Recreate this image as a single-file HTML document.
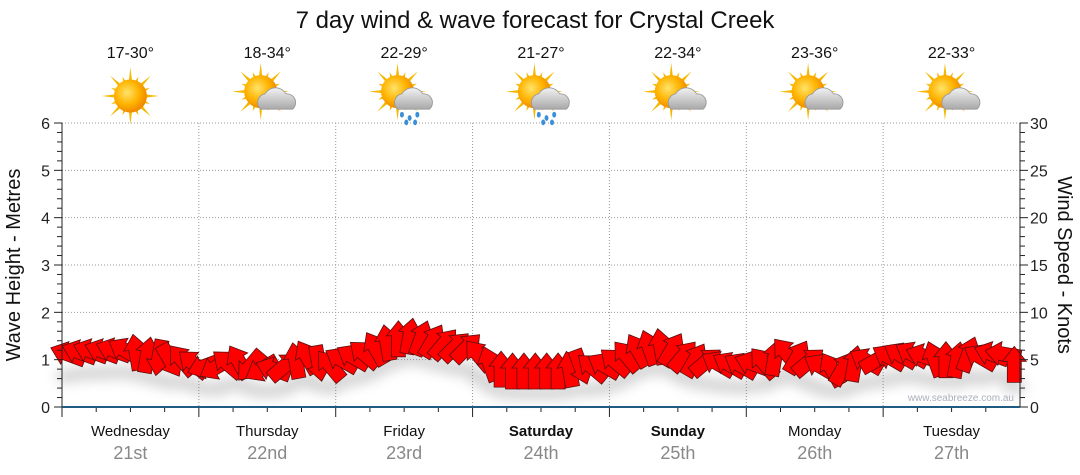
<!DOCTYPE html>
<html><head><meta charset="utf-8">
<style>
body{margin:0;background:#fff;font-family:"Liberation Sans","DejaVu Sans",sans-serif;}
svg{display:block}
</style></head>
<body>
<svg id="chart" width="1080" height="475" viewBox="0 0 1080 475" xmlns="http://www.w3.org/2000/svg">
<defs>
<filter id="blur" x="-50%" y="-50%" width="200%" height="200%"><feGaussianBlur stdDeviation="6"/></filter>
<radialGradient id="sunG" cx="40%" cy="40%" r="60%"><stop offset="0" stop-color="#ffe36a"/><stop offset="0.6" stop-color="#ffb300"/><stop offset="1" stop-color="#f08a00"/></radialGradient>
<linearGradient id="cloudG" x1="0" y1="0" x2="0" y2="1"><stop offset="0" stop-color="#f2f2f2"/><stop offset="1" stop-color="#a8a8a8"/></linearGradient>
</defs>
<text x="535" y="28" font-size="24" text-anchor="middle" fill="#111">7 day wind &amp; wave forecast for Crystal Creek</text>
<g id="grid"></g>
<g id="shadows" filter="url(#blur)" opacity="0.25"></g>
<g id="arrows"></g>
<g id="axes"></g>
<g id="icons"></g>
<text x="1014" y="401" font-size="10" text-anchor="end" fill="#aab0bb">www.seabreeze.com.au</text>
<text transform="translate(20,265) rotate(-90)" font-size="20" text-anchor="middle" fill="#111">Wave Height - Metres</text>
<text transform="translate(1058,265) rotate(90)" font-size="20" text-anchor="middle" fill="#111">Wind Speed - Knots</text>
</svg>
<script>
const days=["Wednesday","Thursday","Friday","Saturday","Sunday","Monday","Tuesday"];
const dates=["21st","22nd","23rd","24th","25th","26th","27th"];
const boldDays=[false,false,false,true,true,false,false];
const temps=["17-30°","18-34°","22-29°","21-27°","22-34°","23-36°","22-33°"];
const weather=["sun","cloud","rain","rain","cloud","cloud","cloud"];
const waveTicks=[0,1,2,3,4,5,6];
const windTicks=[0,5,10,15,20,25,30];
const windSpeed=[5.6,5.8,5.9,5.9,6,6,5.8,5.5,5.2,4.9,5.0,4.6,
4.3,4.2,4.6,4.8,4.3,4.0,4.0,4.3,4.9,5.3,4.6,4.4,
5.0,5.3,5.6,6.2,6.8,7.2,7.5,7.3,7.0,6.7,6.4,6.3,
5.5,4.6,4.0,3.8,3.8,3.8,3.8,3.8,4.0,4.2,4.2,4.4,
4.8,5.4,6.0,6.3,6.4,6.1,5.4,5.0,4.8,4.6,4.5,4.4,
4.6,4.7,5.2,5.7,5.3,4.8,4.3,4.0,4.1,4.6,4.9,5.0,
5.3,5.5,5.6,5.4,5.1,5.0,5.0,5.6,5.3,5.6,5.6,4.5];
const windDir=[-160,-160,-160,-160,-160,-150,-100,-80,100,60,-130,-140,
160,150,-140,-120,130,150,-160,-40,-100,-120,80,-130,
-150,-150,-140,-120,-100,-90,-80,-70,-60,-50,-45,-45,
-130,-110,-90,-90,-90,-90,-90,-90,-100,70,-140,-150,
-140,-130,-120,-110,-100,-60,-50,-60,-40,-150,-150,-150,
-160,-130,-80,-130,-60,-40,-150,-120,-60,-80,-150,-30,
-150,-150,-150,-160,-110,-90,-80,-70,-150,-160,-170,-90];

const NS="http://www.w3.org/2000/svg";
const X0=62,X1=1020,Y0=407,Y1=123;
const dayW=(X1-X0)/7;
function yWave(m){return Y0-(m/6)*(Y0-Y1);}
function yWind(k){return Y0-(k/30)*(Y0-Y1);}
function xTime(i){return X0+(i+0.5)/windSpeed.length*(X1-X0);}
function mk(tag,attrs,parent){const e=document.createElementNS(NS,tag);for(const k in attrs)e.setAttribute(k,attrs[k]);parent.appendChild(e);return e;}
const grid=document.getElementById('grid'),axes=document.getElementById('axes'),arrows=document.getElementById('arrows'),shadows=document.getElementById('shadows'),icons=document.getElementById('icons');

waveTicks.forEach(v=>{
  if(v>0){const l=mk('line',{x1:X0,x2:X1,y1:yWave(v),y2:yWave(v),stroke:'#999','stroke-dasharray':'1,2','stroke-width':1},grid);
  
  }
  const t=mk('text',{x:50,y:yWave(v)+6,'font-size':16,'text-anchor':'end',fill:'#222'},axes);t.textContent=v;
  
  
});
windTicks.forEach(v=>{
  const t=mk('text',{x:1030,y:yWind(v)+6,'font-size':16,fill:'#222'},axes);t.textContent=v;
  
  
});
for(let k=0;k<=30;k++){const y=yWind(k);const len=(k%5==0)?8:5;
  mk('line',{x1:X0,x2:X0-len,y1:y,y2:y,stroke:'#222'},axes);
  mk('line',{x1:X1,x2:X1+len,y1:y,y2:y,stroke:'#222'},axes);}
mk('line',{x1:X0,x2:X0,y1:Y1,y2:Y0,stroke:'#222'},axes);
mk('line',{x1:X1,x2:X1,y1:Y1,y2:Y0,stroke:'#222'},axes);
for(let d=0;d<7;d++){
  const xs=X0+d*dayW,xc=xs+dayW/2;
  if(d>0){const l=mk('line',{x1:xs,x2:xs,y1:Y1,y2:Y0,stroke:'#999','stroke-dasharray':'1,2'},grid);
    
    }
  for(let q=0;q<4;q++){const x=xs+q*dayW/4;mk('line',{x1:x,x2:x,y1:Y0,y2:Y0+(q==0?10:5),stroke:'#222'},axes);}
  const t1=mk('text',{x:xc,y:436,'font-size':15,'text-anchor':'middle',fill:'#111','font-weight':boldDays[d]?'bold':'normal'},axes);t1.textContent=days[d];
  
  
  const t2=mk('text',{x:xc,y:459,'font-size':18,'text-anchor':'middle',fill:'#888'},axes);t2.textContent=dates[d];
  
  
  const t3=mk('text',{x:xc,y:58,'font-size':16,'text-anchor':'middle',fill:'#111'},icons);t3.textContent=temps[d];
  
  
  const g=mk('g',{transform:`translate(${xc},96) scale(1.1)`},icons);
  
  
  const sx=weather[d]=='sun'?0:-6,sy=weather[d]=='sun'?0:-4;
  for(let r=0;r<16;r++){const a=r*Math.PI/8,L=(r%2?19:26);
    mk('polygon',{points:`${sx+Math.cos(a-0.12)*13},${sy+Math.sin(a-0.12)*13} ${sx+Math.cos(a)*L},${sy+Math.sin(a)*L} ${sx+Math.cos(a+0.12)*13},${sy+Math.sin(a+0.12)*13}`,fill:'#f5b800'},g);}
  mk('circle',{cx:sx,cy:sy,r:15,fill:'url(#sunG)'},g);
  if(weather[d]!='sun'){
    mk('path',{d:'M-6,12 a8,8 0 0 1 4,-14 a11,11 0 0 1 19,0 a8,8 0 0 1 6,14 z',fill:'url(#cloudG)',stroke:'#999','stroke-width':0.8},g);
  }
  if(weather[d]=='rain'){
    [[-2,17],[5,20],[12,17],[2,24],[10,24]].forEach(p=>mk('ellipse',{cx:p[0],cy:p[1],rx:1.8,ry:2.6,fill:'#3a8fd8'},g));
  }
}
mk('line',{x1:X0,x2:X1,y1:Y0,y2:Y0,stroke:'#1f5a80','stroke-width':2},axes);
const shape="-18,-7 3,-7 3,-12 18,0 3,12 3,7 -18,7";
windSpeed.forEach((k,i)=>{
  const x=xTime(i),y=yWind(k);
  mk('ellipse',{cx:x,cy:y+22,rx:12,ry:7,fill:'#555'},shadows);
  const p=mk('polygon',{points:shape,transform:`translate(${x.toFixed(1)},${y.toFixed(1)}) rotate(${windDir[i]})`,fill:'#ff0000',stroke:'#5a1010','stroke-width':0.8,'stroke-linejoin':'miter'},arrows);
  
  
});
</script>
</body></html>
